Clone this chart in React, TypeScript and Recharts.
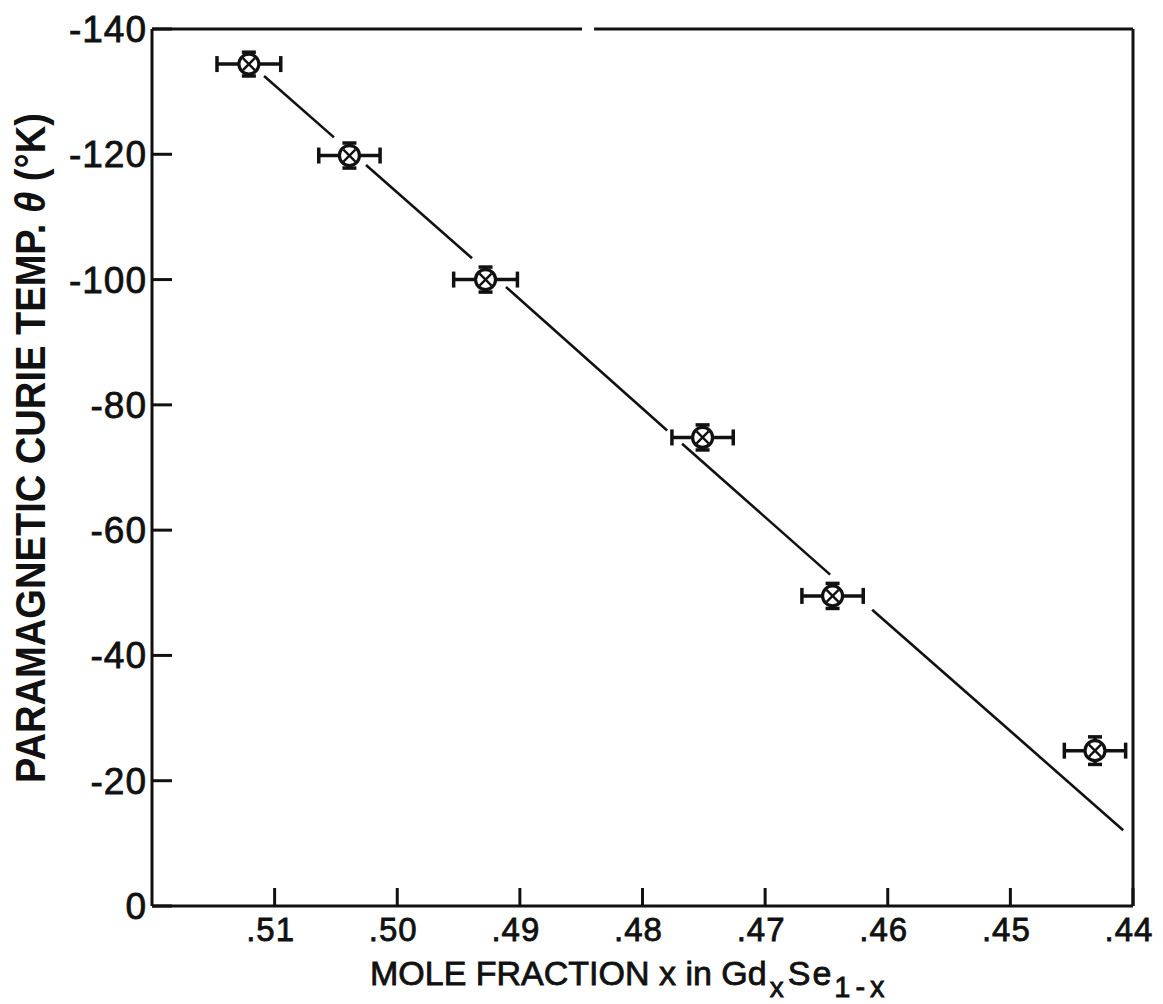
import React from 'react';
import { ComposedChart, XAxis, YAxis, Scatter, Line, ErrorBar, ReferenceLine } from 'recharts';

// ---- data ----
const moleFraction = [0.5121, 0.5039, 0.4928, 0.4751, 0.4645, 0.4431];
const curieTemp = [-134.4, -119.8, -100.0, -74.8, -49.5, -24.8];
const xError = [0.0026, 0.0025, 0.0026, 0.0025, 0.0025, 0.0025];
const yError = [1.9, 2.0, 2.0, 2.0, 2.0, 2.2];

// fitted straight line, drawn in pieces (broken near the markers as in the original)
const fitSegmentX = [
  [0.51086, 0.50516],
  [0.50255, 0.4939],
  [0.49113, 0.47799],
  [0.47677, 0.4647],
  [0.46127, 0.4408],
];
const fitSegmentY = [
  [-132.5, -122.7],
  [-118.3, -103.4],
  [-98.8, -75.9],
  [-73.8, -52.9],
  [-47.3, -12.1],
];

const xTicks = [0.51, 0.5, 0.49, 0.48, 0.47, 0.46, 0.45, 0.44];
const xTickLabels = ['.51', '.50', '.49', '.48', '.47', '.46', '.45', '.44'];
const yTicks = [0, -20, -40, -60, -80, -100, -120, -140];
const yTickLabels = ['0', '-20', '-40', '-60', '-80', '-100', '-120', '-140'];

// top frame line (has a small break in the original)
const topFrameX = [
  [0.52, 0.48493],
  [0.48395, 0.44],
];
const topFrameY = -140;
const rightFrameX = 0.44;

const INK = '#111';
const FONT = '"Liberation Sans", Arial, Helvetica, sans-serif';

const points = moleFraction.map((x, i) => ({
  x,
  y: curieTemp[i],
  xErr: xError[i],
  yErr: yError[i],
}));

const segments = fitSegmentX.map((xs, i) =>
  xs.map((x, j) => ({ x, y: fitSegmentY[i][j] }))
);

const XTick = (props: any) => {
  const { x, y, payload } = props;
  const idx = xTicks.findIndex((t) => Math.abs(t - payload.value) < 1e-9);
  const label = idx >= 0 ? xTickLabels[idx] : String(payload.value);
  return (
    <g>
      <line x1={x} x2={x} y1={y} y2={y - 18} stroke={INK} strokeWidth={3} />
      <text
        x={x - 4}
        y={y + 35}
        textAnchor="middle"
        fontSize={33}
        fontFamily={FONT}
        fill={INK}
        stroke={INK}
        strokeWidth={0.8}
        letterSpacing={1}
      >
        {label}
      </text>
    </g>
  );
};

const YTick = (props: any) => {
  const { x, y, payload } = props;
  const idx = yTicks.findIndex((t) => Math.abs(t - payload.value) < 1e-9);
  const label = idx >= 0 ? yTickLabels[idx] : String(payload.value);
  return (
    <g>
      <line x1={x} x2={x + 20} y1={y} y2={y} stroke={INK} strokeWidth={3} />
      <text
        x={x - 5}
        y={y + 13}
        textAnchor="end"
        fontSize={37}
        fontFamily={FONT}
        fill={INK}
        stroke={INK}
        strokeWidth={0.8}
        letterSpacing={1}
      >
        {label}
      </text>
    </g>
  );
};

const Marker = (props: any) => {
  const { cx, cy } = props;
  if (cx == null || cy == null) return <g />;
  const d = 6;
  return (
    <g>
      <circle cx={cx} cy={cy} r={10} fill="#fff" stroke={INK} strokeWidth={3.2} />
      <line x1={cx - d} y1={cy - d} x2={cx + d} y2={cy + d} stroke={INK} strokeWidth={2.4} />
      <line x1={cx - d} y1={cy + d} x2={cx + d} y2={cy - d} stroke={INK} strokeWidth={2.4} />
    </g>
  );
};

const YLabel = () => (
  <text
    x={37}
    y={440}
    transform="rotate(-90, 37, 440)"
    textAnchor="middle"
    fontSize={42}
    fontWeight="bold"
    fontFamily={FONT}
    fill={INK}
    textLength={670}
    lengthAdjust="spacingAndGlyphs"
  >
    PARAMAGNETIC CURIE TEMP.{' '}
    <tspan fontStyle="italic">θ</tspan> (°K)
  </text>
);

const XLabel = () => (
  <text
    x={362}
    y={977}
    textAnchor="start"
    fontSize={34}
    fontFamily={FONT}
    fill={INK}
    stroke={INK}
    strokeWidth={0.8}
  >
    MOLE FRACTION x in Gd
    <tspan fontSize={28} dx={3} dy={12}>x</tspan>
    <tspan dx={4} dy={-12} letterSpacing={2}>Se</tspan>
    <tspan fontSize={29} dx={1} dy={12} letterSpacing={5}>1-x</tspan>
  </text>
);

export default function App() {
  return (
    <div style={{ background: '#fff', width: 1150, height: 996 }}>
      <ComposedChart
        width={1150}
        height={996}
        margin={{ top: 21, right: 25, bottom: 6, left: 0 }}
      >
        <XAxis
          type="number"
          dataKey="x"
          domain={[0.44, 0.52]}
          reversed
          allowDataOverflow
          ticks={xTicks}
          interval={0}
          tickSize={0}
          tickMargin={0}
          tickLine={false}
          tick={<XTick />}
          height={92}
          axisLine={{ stroke: INK, strokeWidth: 3 }}
          label={{ content: () => <XLabel /> }}
        />
        <YAxis
          type="number"
          dataKey="y"
          domain={[-140, 0]}
          reversed
          allowDataOverflow
          ticks={yTicks}
          interval={0}
          tickSize={0}
          tickMargin={0}
          tickLine={false}
          tick={<YTick />}
          width={144}
          axisLine={{ stroke: INK, strokeWidth: 3 }}
          label={{ content: () => <YLabel /> }}
        />
        {topFrameX.map((xs, i) => (
          <ReferenceLine
            key={'top' + i}
            segment={[
              { x: xs[0], y: topFrameY },
              { x: xs[1], y: topFrameY },
            ]}
            stroke={INK}
            strokeWidth={3}
            ifOverflow="visible"
          />
        ))}
        <ReferenceLine x={rightFrameX} stroke={INK} strokeWidth={3} ifOverflow="visible" />
        {segments.map((seg, i) => (
          <Line
            key={'fit' + i}
            data={seg}
            dataKey="y"
            type="linear"
            stroke={INK}
            strokeWidth={2.6}
            dot={false}
            activeDot={false}
            isAnimationActive={false}
            legendType="none"
          />
        ))}
        <Scatter data={points} shape={<Marker />} isAnimationActive={false}>
          <ErrorBar dataKey="xErr" direction="x" width={8} stroke={INK} strokeWidth={3.5} />
          <ErrorBar dataKey="yErr" direction="y" width={7} stroke={INK} strokeWidth={3.5} />
        </Scatter>
      </ComposedChart>
    </div>
  );
}
